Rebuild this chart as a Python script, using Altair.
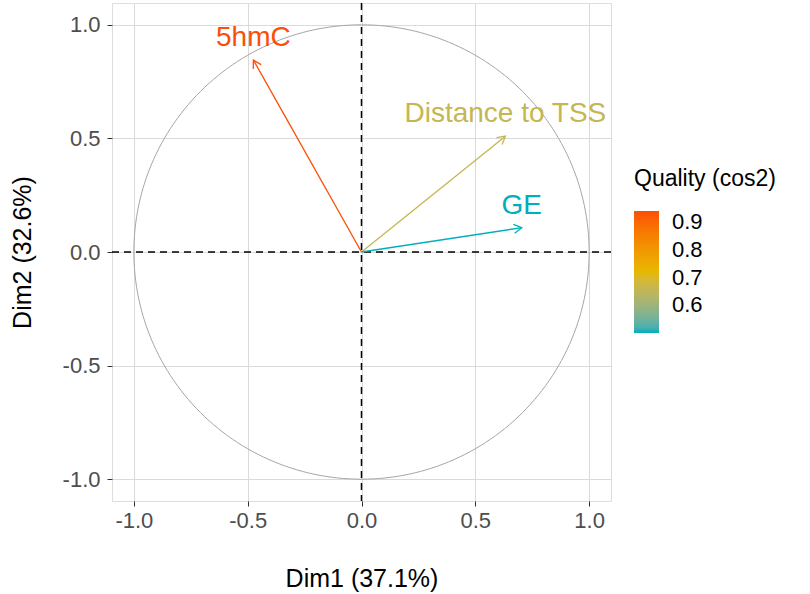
import altair as alt
import pandas as pd
import numpy as np

# ---- data ----
variables = ["5hmC", "Distance to TSS", "GE"]
dim1 = [-0.475, 0.632, 0.704]
dim2 = [0.845, 0.510, 0.107]
cos2 = [0.94, 0.66, 0.50]
axis_ticks = [-1.0, -0.5, 0.0, 0.5, 1.0]
legend_ticks = [0.6, 0.7, 0.8, 0.9]
x_title = "Dim1 (37.1%)"
y_title = "Dim2 (32.6%)"
legend_title = "Quality (cos2)"
gradient_colors = ["#00AFBB", "#E7B800", "#FC4E07"]
origin = [0.0]

df = pd.DataFrame({"var": variables, "Dim1": dim1, "Dim2": dim2, "cos2": cos2})
df["angle"] = (np.degrees(np.arctan2(df["Dim1"], df["Dim2"])) + 360) % 360

# unit correlation circle (reference shape)
theta = np.linspace(0, 2 * np.pi, 241)
circle = pd.DataFrame({"cx": np.cos(theta), "cy": np.sin(theta), "i": np.arange(len(theta))})
zero_df = pd.DataFrame({"z": origin})

FONT = "Liberation Sans"
lim = 1.096
xs = alt.Scale(domain=[-lim, lim], nice=False, zero=False)
ys = alt.Scale(domain=[-lim, lim], nice=False, zero=False)
lab_expr = "(datum.value < 0 ? '-' : '') + format(abs(datum.value), '.1f')"

x_axis = alt.Axis(values=axis_ticks, labelExpr=lab_expr, title=x_title, grid=True,
                  gridColor="#dadada", gridWidth=1, domain=False, tickColor="#333333",
                  tickSize=5, labelFontSize=22, labelColor="#4d4d4d", labelPadding=4,
                  titleFontSize=25, titleColor="black", titleFontWeight="normal",
                  titleY=77, titleBaseline="middle", labelFont=FONT, titleFont=FONT)
y_axis = alt.Axis(values=axis_ticks, labelExpr=lab_expr, title=y_title, grid=True,
                  gridColor="#dadada", gridWidth=1, domain=False, tickColor="#333333",
                  tickSize=5, labelFontSize=22, labelColor="#4d4d4d", labelPadding=7,
                  titleFontSize=25, titleColor="black", titleFontWeight="normal",
                  titleX=-90, titleY=249, titleAngle=270, titleBaseline="middle",
                  titleAlign="center", labelFont=FONT, titleFont=FONT)

def cscale():
    return alt.Scale(domain=[min(cos2), max(cos2)], range=gradient_colors, interpolate="lab")

legend = alt.Legend(title=legend_title, orient="none", legendX=522, legendY=165,
                    direction="vertical", gradientLength=122, gradientThickness=25,
                    gradientStrokeWidth=0, values=legend_ticks, format=".1f",
                    titleFontSize=23, titleFontWeight="normal", titleColor="black",
                    titlePadding=20, labelFontSize=22, labelColor="black", labelOffset=13,
                    titleFont=FONT, labelFont=FONT)

circ = alt.Chart(circle).mark_line(color="#a6a6a6", strokeWidth=1).encode(
    x=alt.X("cx:Q", scale=xs, axis=x_axis),
    y=alt.Y("cy:Q", scale=ys, axis=y_axis),
    order="i:Q",
)

vline = alt.Chart(zero_df).mark_rule(color="black", strokeDash=[7, 5], strokeWidth=1.5).encode(
    x=alt.X("z:Q", scale=xs, axis=x_axis)
)
hline = alt.Chart(zero_df).mark_rule(color="black", strokeDash=[7, 5], strokeWidth=1.5).encode(
    y=alt.Y("z:Q", scale=ys, axis=y_axis)
)

shafts = alt.Chart(df).mark_rule(strokeWidth=1.3).encode(
    x=alt.X("Dim1:Q", scale=xs, axis=x_axis),
    y=alt.Y("Dim2:Q", scale=ys, axis=y_axis),
    x2=alt.datum(0),
    y2=alt.datum(0),
    color=alt.Color("cos2:Q", scale=cscale(), legend=legend),
)

heads = alt.Chart(df).mark_point(
    shape="M-0.5,0.866L0,0L0.5,0.866", filled=False, size=324, strokeWidth=1.3, opacity=1
).encode(
    x=alt.X("Dim1:Q", scale=xs, axis=x_axis),
    y=alt.Y("Dim2:Q", scale=ys, axis=y_axis),
    angle=alt.Angle("angle:Q", scale=None),
    color=alt.Color("cos2:Q", scale=cscale(), legend=None),
)

labels = alt.Chart(df).mark_text(
    fontSize=28, font=FONT, baseline="alphabetic", align="center", dy=-14
).encode(
    x=alt.X("Dim1:Q", scale=xs, axis=x_axis),
    y=alt.Y("Dim2:Q", scale=ys, axis=y_axis),
    text="var:N",
    color=alt.Color("cos2:Q", scale=cscale(), legend=None),
)

chart = alt.layer(circ, vline, hline, shafts, heads, labels).resolve_scale(
    color="independent"
).properties(
    width=499, height=498,
    padding={"left": 112, "top": 3, "right": 199, "bottom": 93},
    autosize=alt.AutoSizeParams(type="none"),
    background="white",
).configure_view(stroke="#333333", strokeWidth=1).configure(font=FONT)

chart.save("out.html", embed_options={"renderer": "svg", "actions": False})
